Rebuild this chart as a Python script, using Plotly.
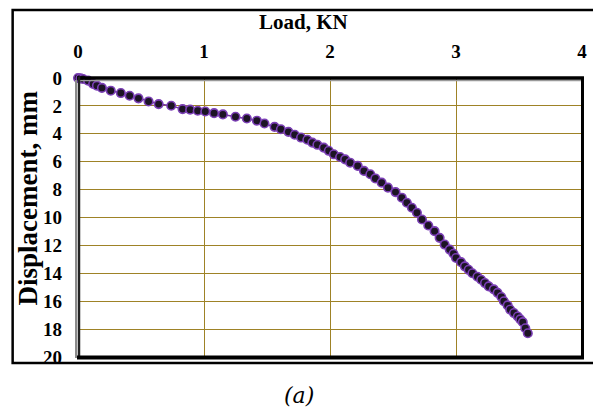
import plotly.graph_objects as go

load_kn = [0.00, 0.02, 0.04, 0.08, 0.12, 0.15, 0.19, 0.26, 0.34, 0.41, 0.48, 0.56,
           0.64, 0.74, 0.83, 0.89, 0.95, 1.01, 1.08, 1.15, 1.25, 1.34, 1.42, 1.48,
           1.56, 1.61, 1.67, 1.72, 1.77, 1.82, 1.86, 1.90, 1.95, 1.99, 2.03, 2.08,
           2.12, 2.16, 2.22, 2.27, 2.32, 2.36, 2.41, 2.46, 2.52, 2.57, 2.61, 2.65,
           2.69, 2.73, 2.78, 2.83, 2.87, 2.91, 2.95, 2.98, 3.00, 3.04, 3.07, 3.10,
           3.13, 3.17, 3.20, 3.23, 3.26, 3.30, 3.33, 3.36, 3.38, 3.41, 3.43, 3.46,
           3.49, 3.51, 3.53, 3.55, 3.57]
disp_mm = [0.00, 0.03, 0.07, 0.19, 0.43, 0.55, 0.71, 0.91, 1.08, 1.27, 1.46, 1.68,
           1.87, 1.99, 2.23, 2.27, 2.35, 2.40, 2.52, 2.61, 2.78, 2.90, 3.06, 3.26,
           3.50, 3.67, 3.86, 4.07, 4.27, 4.43, 4.63, 4.79, 4.99, 5.22, 5.47, 5.66,
           5.83, 6.07, 6.30, 6.66, 6.90, 7.20, 7.50, 7.86, 8.18, 8.58, 8.94, 9.30,
           9.66, 10.14, 10.57, 10.98, 11.46, 11.94, 12.30, 12.60, 12.90, 13.20, 13.50, 13.75,
           14.00, 14.25, 14.46, 14.70, 14.94, 15.15, 15.40, 15.70, 16.00, 16.30, 16.60, 16.85,
           17.10, 17.30, 17.50, 17.94, 18.30]

x_ticks = [0, 1, 2, 3, 4]
y_ticks = [0, 2, 4, 6, 8, 10, 12, 14, 16, 18, 20]

SERIF = "Liberation Serif"
GRID = "#9E8226"

fig = go.Figure()
fig.add_trace(go.Scatter(
    x=load_kn, y=disp_mm, mode="lines+markers",
    line=dict(color="#7030A0", width=1.5),
    marker=dict(size=8.5, color="#1c1424", line=dict(color="#7B3FB5", width=1.6)),
    showlegend=False, cliponaxis=False,
))

W, H = 593, 410
L, R, T, B = 78, 6, 78, 53
pw, ph = W - L - R, H - T - B

def px(x):
    return (x - L) / pw

def py(y):
    return (H - B - y) / ph

fig.update_layout(
    width=W, height=H,
    margin=dict(l=L, r=R, t=T, b=B),
    paper_bgcolor="white", plot_bgcolor="white",
    xaxis=dict(range=[0, 4], side="top", tickvals=x_ticks, ticktext=[str(v) for v in x_ticks],
               showgrid=True, gridcolor=GRID, gridwidth=1, zeroline=False,
               showline=False, ticks="", ticklabelstandoff=15,
               tickfont=dict(family=SERIF, size=19, color="black", weight="bold")),
    yaxis=dict(range=[20, 0], tickvals=y_ticks, ticktext=[str(v) for v in y_ticks],
               showgrid=True, gridcolor=GRID, gridwidth=1, zeroline=False,
               showline=False, ticks="", ticklabelstandoff=15,
               tickfont=dict(family=SERIF, size=19, color="black", weight="bold")),
    shapes=[
        # outer frame
        dict(type="rect", xref="paper", yref="paper", x0=px(12), x1=px(600), y0=py(363), y1=py(10),
             line=dict(color="black", width=2.5), layer="above"),
        # gray shadows
        dict(type="line", xref="paper", yref="paper", x0=px(76), x1=px(76), y0=py(80), y1=py(358),
             line=dict(color="#8a8a8a", width=2), layer="above"),
        dict(type="line", xref="paper", yref="paper", x0=px(78), x1=px(588), y0=py(80.5), y1=py(80.5),
             line=dict(color="#9a9a9a", width=1.5), layer="above"),
        # plot borders
        dict(type="line", xref="paper", yref="paper", x0=px(77), x1=px(589), y0=py(78), y1=py(78),
             line=dict(color="black", width=3.5), layer="above"),
        dict(type="line", xref="paper", yref="paper", x0=px(79), x1=px(79), y0=py(77), y1=py(358),
             line=dict(color="#222222", width=2.5), layer="above"),
        dict(type="line", xref="paper", yref="paper", x0=px(77), x1=px(589), y0=py(357.5), y1=py(357.5),
             line=dict(color="black", width=4), layer="above"),
        dict(type="line", xref="paper", yref="paper", x0=px(587.5), x1=px(587.5), y0=py(77), y1=py(359),
             line=dict(color="black", width=3), layer="above"),
    ],
    annotations=[
        dict(text="Load, KN", xref="paper", yref="paper", x=px(306), y=py(22),
             showarrow=False, xanchor="center", yanchor="middle",
             font=dict(family=SERIF, size=21, color="black", weight="bold")),
        dict(text="Displacement, mm", xref="paper", yref="paper", x=px(27), y=py(198),
             showarrow=False, xanchor="center", yanchor="middle", textangle=-90,
             font=dict(family=SERIF, size=27, color="black", weight="bold")),
        dict(text="<i>(a)</i>", xref="paper", yref="paper", x=px(301), y=py(396),
             showarrow=False, xanchor="center", yanchor="middle",
             font=dict(family="DejaVu Serif", size=22, color="black")),
    ],
)

fig.write_html("out.html")
